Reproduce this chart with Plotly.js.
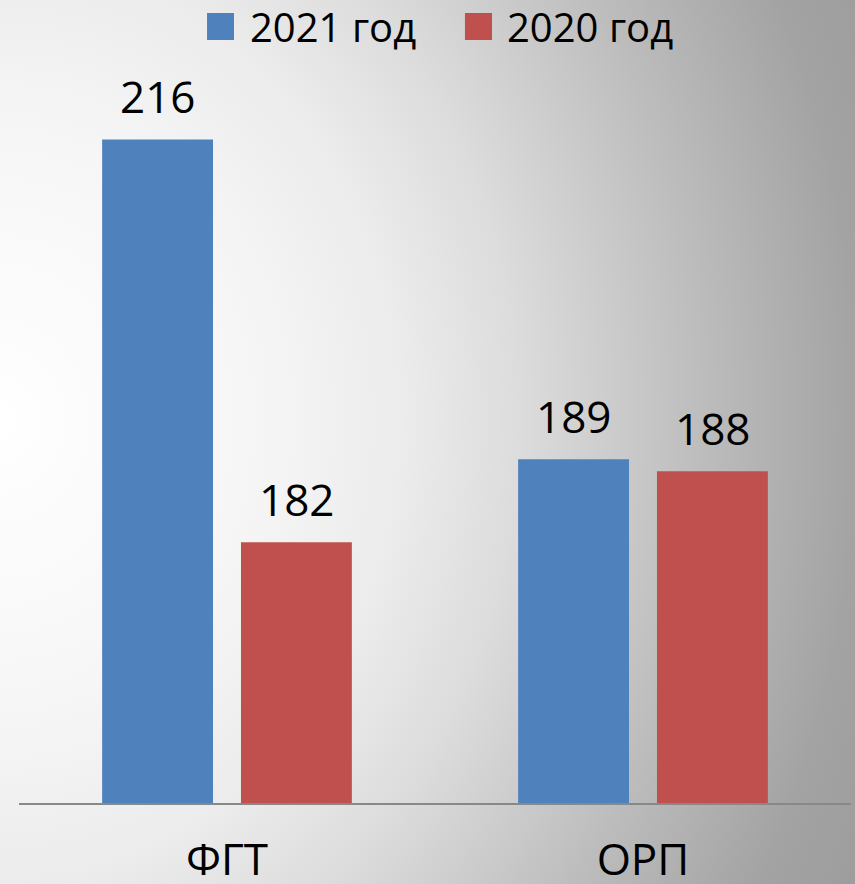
<!DOCTYPE html>
<html>
<head>
<meta charset="utf-8">
<script src="https://cdn.plot.ly/plotly-3.0.1.min.js"></script>
<style>
  html, body { margin: 0; padding: 0; overflow: hidden; }
  #chart {
    width: 855px; height: 884px;
    background: radial-gradient(ellipse 1000px 1150px at 0px 420px, #ffffff 0px, #f6f6f6 250px, #ececec 400px, #dcdcdc 520px, #bdbdbd 700px, #a3a3a3 860px, #999999 1000px);
  }
</style>
</head>
<body>
<div id="chart"></div>
<script>
const categories = ['ФГТ', 'ОРП'];
const seriesNames = ['2021 год', '2020 год'];
const values2021 = [216, 189];
const values2020 = [182, 188];
const yRange = [160, 220];

const colors = ['#4F81BD', '#C0504D'];
const seriesValues = [values2021, values2020];
const fontFamily = '"Open Sans", "Noto Sans", sans-serif';

const traces = seriesValues.map((vals, s) => ({
  type: 'bar',
  name: seriesNames[s],
  x: categories,
  y: vals,
  base: 0,
  marker: { color: colors[s], line: { width: 0 } },
  hoverinfo: 'none',
  showlegend: false
}));

const annotations = [];
seriesValues.forEach((vals, s) => {
  vals.forEach((v, i) => {
    annotations.push({
      x: categories[i], y: v, xref: 'x', yref: 'y',
      text: String(v), showarrow: false,
      xanchor: 'center', yanchor: 'bottom',
      xshift: s === 0 ? -69.5 : 69.5, yshift: 11,
      font: { family: fontFamily, size: 44, color: '#000' }
    });
  });
});

// Manual legend (large squares)
const legendSquareX = [[0.226, 0.2584], [0.536, 0.5685]];
const legendTextX = [0.2752, 0.584];
const shapes = [];
seriesNames.forEach((n, s) => {
  shapes.push({
    type: 'rect', xref: 'paper', yref: 'paper',
    x0: legendSquareX[s][0], x1: legendSquareX[s][1],
    y0: 1.0731, y1: 1.1111,
    fillcolor: colors[s], line: { width: 0 }
  });
  annotations.push({
    x: legendTextX[s], y: 1.0925, xref: 'paper', yref: 'paper',
    text: n, showarrow: false, xanchor: 'left', yanchor: 'middle',
    font: { family: fontFamily, size: 40, color: '#000' }
  });
});

const layout = {
  width: 855, height: 884,
  margin: { l: 19, r: 4, t: 92, b: 81, pad: 0 },
  paper_bgcolor: 'rgba(0,0,0,0)',
  plot_bgcolor: 'rgba(0,0,0,0)',
  barmode: 'group',
  bargap: 0.3325,
  bargroupgap: 0.2014,
  showlegend: false,
  xaxis: {
    type: 'category',
    showline: true, linecolor: '#888888', linewidth: 2,
    ticks: '', showgrid: false, zeroline: false,
    tickfont: { family: fontFamily, size: 44, color: '#000' },
    ticklabelstandoff: 17
  },
  yaxis: {
    range: yRange, visible: false, showgrid: false, zeroline: false, fixedrange: true
  },
  annotations: annotations,
  shapes: shapes
};

Plotly.newPlot('chart', traces, layout, { displayModeBar: false, staticPlot: true });
</script>
</body>
</html>
